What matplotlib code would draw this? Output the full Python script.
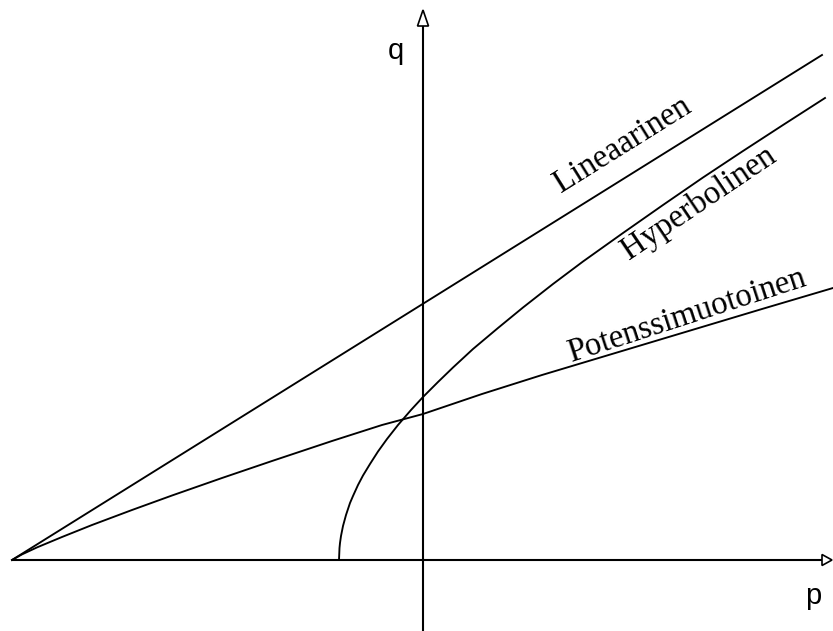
import numpy as np
import matplotlib.pyplot as plt
from matplotlib.patches import Polygon

# curves in axis units (p to the right, q up, origin at the axis crossing)
lin_p = [-411, 399]
lin_q = [0, 505]

pot_p = [-411, -401, -386, -361, -331, -291, -251, -201, -151, -91, -41, 0,
         59, 119, 189, 269, 339, 410]
pot_q = [0, 5.6, 12.6, 23, 35, 50, 64.5, 82, 99, 119, 135, 146,
         166, 185, 206, 230, 251, 272]

hyp_p = [-84, -83.5, -83, -82, -80, -77, -73, -70, -65, -60, -53, -45, -36, -25,
         -12, 0, 15, 30, 50, 75, 100, 130, 160, 200, 240, 280, 320, 360, 402]
hyp_q = [0, 12, 17, 24, 34, 45, 57, 64, 75, 84.5, 96, 108.5, 121, 135,
         150, 163, 178, 192.5, 211, 232, 252.5, 276, 298.5, 327, 355, 382.5, 409, 435, 462]

labels = ['Lineaarinen', 'Hyperbolinen', 'Potenssimuotoinen']
label_pos = [(138, 367), (206, 300), (148, 198)]
label_rot = [32, 34, 18]

P_MIN, P_MAX = -411, 409
Q_MIN, Q_MAX = -75, 550

fig = plt.figure(figsize=(8.33, 6.31), dpi=100)
ax = fig.add_axes([0, 0, 1, 1])
ax.set_xlim(-423, 410)
ax.set_ylim(-71, 560)
ax.axis('off')

# axes with open arrowheads
ax.plot([P_MIN, P_MAX - 10], [0, 0], color='black', lw=1.5, solid_capstyle='butt')
ax.plot([0, 0], [Q_MIN, Q_MAX - 16], color='black', lw=1.5, solid_capstyle='butt')
ax.add_patch(Polygon([[P_MAX - 10, 5.5], [P_MAX, 0], [P_MAX - 10, -5.5]], closed=True,
                     facecolor='white', edgecolor='black', lw=1.2, zorder=3))
ax.add_patch(Polygon([[-5.5, Q_MAX - 16], [0, Q_MAX], [5.5, Q_MAX - 16]], closed=True,
                     facecolor='white', edgecolor='black', lw=1.2, zorder=3))

for p, q in [(lin_p, lin_q), (pot_p, pot_q), (hyp_p, hyp_q)]:
    ax.plot(p, q, color='black', lw=1.35, solid_joinstyle='round')

for txt, (x, y), r in zip(labels, label_pos, label_rot):
    ax.text(x, y, txt, rotation=r, rotation_mode='anchor', ha='left', va='baseline',
            family='Liberation Serif', fontsize=23.5)

ax.text(-27, 509, 'q', ha='center', va='center', family='Liberation Sans', fontsize=21)
ax.text(390, -36, 'p', ha='center', va='center', family='Liberation Sans', fontsize=21)

fig.savefig('out.png', dpi=100)
